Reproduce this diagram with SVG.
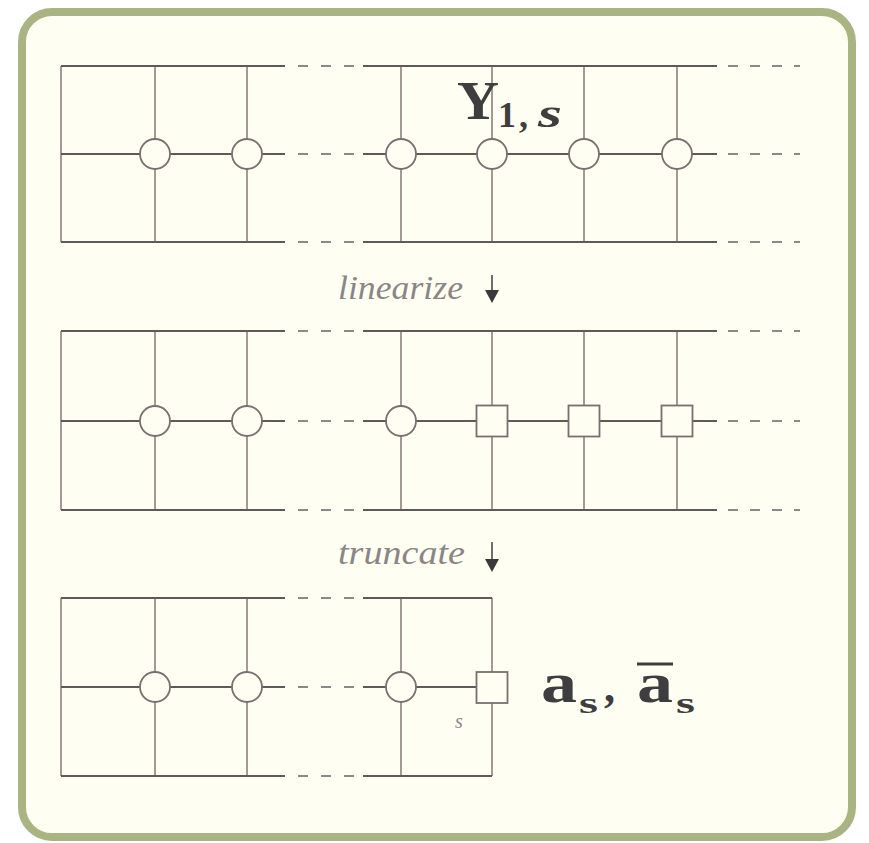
<svg xmlns="http://www.w3.org/2000/svg" width="869" height="843" viewBox="0 0 869 843">
<defs>
<style>
.h{stroke:#5e5a5a;stroke-width:2;fill:none}
.d{stroke:#8a8888;stroke-width:2;fill:none;stroke-dasharray:10 13}
.dr{stroke:#8a8888;stroke-width:2;fill:none;stroke-dasharray:10 12}
.v{stroke:#8c8080;stroke-width:1.6;fill:none}
.c{stroke:#777070;stroke-width:1.8;fill:#fefef2}
.lab{font-family:"Liberation Serif",serif;font-style:italic;font-size:33px;fill:#8a8686}
.math{font-family:"Liberation Serif","DejaVu Serif",serif;font-weight:bold;fill:#3e3e3e}
.arr{stroke:#4a4a4a;stroke-width:1.6;fill:none}
.ah{fill:#3a3a3a}
</style>
</defs>
<rect x="0" y="0" width="869" height="843" fill="#ffffff"/>
<rect x="22" y="12" width="830" height="825" rx="30" ry="30" fill="#fefef2" stroke="#a9b482" stroke-width="8"/>

<g id="grid1">
<line class="v" x1="61" y1="66" x2="61" y2="242"/>
<line class="v" x1="155" y1="66" x2="155" y2="242"/>
<line class="v" x1="247" y1="66" x2="247" y2="242"/>
<line class="v" x1="401" y1="66" x2="401" y2="242"/>
<line class="v" x1="492" y1="66" x2="492" y2="242"/>
<line class="v" x1="584" y1="66" x2="584" y2="242"/>
<line class="v" x1="677" y1="66" x2="677" y2="242"/>
<path class="h" d="M61 66H285M363 66H717M61 154H285M363 154H717M61 242H285M363 242H717"/>
<path class="d" d="M298 66H363M298 154H363M298 242H363"/>
<path class="dr" d="M728 66H800M728 154H800M728 242H800"/>
<circle class="c" cx="155" cy="154" r="15"/>
<circle class="c" cx="247" cy="154" r="15"/>
<circle class="c" cx="401" cy="154" r="15"/>
<circle class="c" cx="492" cy="154" r="15"/>
<circle class="c" cx="584" cy="154" r="15"/>
<circle class="c" cx="677" cy="154" r="15"/>
<text class="math" x="457" y="119" font-size="54" textLength="42" lengthAdjust="spacingAndGlyphs">Y</text>
<text class="math" x="498" y="127" font-size="36">1</text>
<text class="math" x="519" y="127" font-size="36">,</text>
<text class="math" x="538" y="127" font-size="40" font-style="italic" textLength="24" lengthAdjust="spacingAndGlyphs">s</text>
</g>

<g id="grid2">
<line class="v" x1="61" y1="331" x2="61" y2="510"/>
<line class="v" x1="155" y1="331" x2="155" y2="510"/>
<line class="v" x1="247" y1="331" x2="247" y2="510"/>
<line class="v" x1="401" y1="331" x2="401" y2="510"/>
<line class="v" x1="492" y1="331" x2="492" y2="510"/>
<line class="v" x1="584" y1="331" x2="584" y2="510"/>
<line class="v" x1="677" y1="331" x2="677" y2="510"/>
<path class="h" d="M61 331H285M363 331H717M61 421H285M363 421H717M61 510H285M363 510H717"/>
<path class="d" d="M298 331H363M298 421H363M298 510H363"/>
<path class="dr" d="M728 331H800M728 421H800M728 510H800"/>
<circle class="c" cx="155" cy="421" r="15"/>
<circle class="c" cx="247" cy="421" r="15"/>
<circle class="c" cx="401" cy="421" r="15"/>
<rect class="c" x="476.5" y="405.5" width="31" height="31"/>
<rect class="c" x="568.5" y="405.5" width="31" height="31"/>
<rect class="c" x="661.5" y="405.5" width="31" height="31"/>
</g>

<g id="grid3">
<line class="v" x1="61" y1="598" x2="61" y2="776"/>
<line class="v" x1="155" y1="598" x2="155" y2="776"/>
<line class="v" x1="247" y1="598" x2="247" y2="776"/>
<line class="v" x1="401" y1="598" x2="401" y2="776"/>
<line class="v" x1="492" y1="598" x2="492" y2="776"/>
<path class="h" d="M61 598H285M363 598H492M61 687H285M363 687H492M61 776H285M363 776H492"/>
<path class="d" d="M298 598H363M298 687H363M298 776H363"/>
<circle class="c" cx="155" cy="687" r="15"/>
<circle class="c" cx="247" cy="687" r="15"/>
<circle class="c" cx="401" cy="687" r="15"/>
<rect class="c" x="476.5" y="672" width="31" height="31"/>
<text x="455" y="728" font-family="Liberation Serif,serif" font-style="italic" font-size="20" fill="#8a8686">s</text>
<text class="math" x="541" y="702" font-size="56" textLength="36" lengthAdjust="spacingAndGlyphs">a</text>
<text class="math" x="579" y="713" font-size="30" textLength="19" lengthAdjust="spacingAndGlyphs">s</text>
<text class="math" x="604" y="702" font-size="44">,</text>
<text class="math" x="637" y="702" font-size="56" textLength="36" lengthAdjust="spacingAndGlyphs">a</text>
<text class="math" x="676" y="713" font-size="30" textLength="19" lengthAdjust="spacingAndGlyphs">s</text>
<line x1="637" y1="664" x2="673" y2="664" stroke="#3e3e3e" stroke-width="3"/>
</g>

<g id="connectors">
<text class="lab" x="338" y="299" textLength="125" lengthAdjust="spacingAndGlyphs">linearize</text>
<line class="arr" x1="492" y1="275" x2="492" y2="292"/>
<polygon class="ah" points="485,290 499,290 492,303"/>
<text class="lab" x="338" y="564" textLength="127" lengthAdjust="spacingAndGlyphs">truncate</text>
<line class="arr" x1="492" y1="542" x2="492" y2="561"/>
<polygon class="ah" points="485,559 499,559 492,572"/>
</g>
</svg>
